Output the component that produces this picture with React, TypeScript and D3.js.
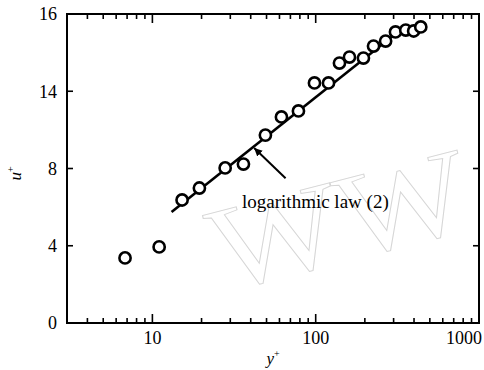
import React, {useRef, useEffect} from 'react'
import * as d3 from 'd3'

// measured points (y+, u+)
const yPlus = [6.8, 11.0, 15.2, 19.4, 27.9, 36.1, 49.2, 61.7, 78.4, 98.3, 119.8, 139.8, 161, 196, 226, 268, 308, 356, 398, 440]
const uPlus = [3.37, 3.94, 6.37, 6.99, 8.03, 8.23, 9.73, 10.67, 10.98, 12.43, 12.43, 13.46, 13.77, 13.72, 14.34, 14.6, 15.07, 15.17, 15.12, 15.33]

// log-law line end points
const lawY = [13.1, 300]
const lawU = [5.75, 14.9]

const yTickValues = [0, 4, 8, 12, 16]
const yTickLabels = ['0', '4', '8', '14', '16']
const xMajorTicks = [10, 100, 1000]
const xTickLabels = ['10', '100', '1000']

// annotation (data coords)
const arrowTip = [42, 9.06]
const arrowTail = [65.4, 7.5]
const lawLabelAt = [35.4, 5.95]
const lawLabel = 'logarithmic law (2)'

export default function App() {
  const ref = useRef(null)

  useEffect(() => {
    const svg = d3.select(ref.current)
    svg.selectAll('*').remove()

    const left = 67
    const right = 479
    const top = 14
    const bottom = 323
    const serif = 'Liberation Serif, Times New Roman, serif'

    const x = d3.scaleLog().domain([3, 1000]).range([left, right])
    const y = d3.scaleLinear().domain([0, 16]).range([bottom, top])

    // watermark (tilted outline letters)
    svg
      .append('text')
      .attr('transform', 'translate(222, 292) rotate(-14.4) scale(1.04, 0.9)')
      .attr('font-family', serif)
      .attr('font-size', 134)
      .attr('fill', 'none')
      .attr('stroke', '#d6d6d6')
      .attr('stroke-width', 1)
      .text('WW')

    const minor = []
    for (let d = 1; d <= 100; d *= 10) {
      for (let k = 2; k <= 9; k++) {
        const v = k * d
        if (v >= 3 && v < 1000) minor.push(v)
      }
    }

    const ax = svg.append('g').attr('stroke', '#000').attr('stroke-width', 1.6)

    // frame
    ax
      .append('rect')
      .attr('x', left)
      .attr('y', top)
      .attr('width', right - left)
      .attr('height', bottom - top)
      .attr('fill', 'none')
      .attr('stroke-width', 2)

    // bottom/top ticks
    minor.forEach(v => {
      ax.append('line').attr('x1', x(v)).attr('x2', x(v)).attr('y1', bottom).attr('y2', bottom - 5)
      ax.append('line').attr('x1', x(v)).attr('x2', x(v)).attr('y1', top).attr('y2', top + 5)
    })
    xMajorTicks.forEach(v => {
      ax.append('line').attr('x1', x(v)).attr('x2', x(v)).attr('y1', bottom).attr('y2', bottom - 9)
      ax.append('line').attr('x1', x(v)).attr('x2', x(v)).attr('y1', top).attr('y2', top + 9)
    })

    // left/right ticks
    yTickValues.forEach(v => {
      ax.append('line').attr('x1', left).attr('x2', left + 6).attr('y1', y(v)).attr('y2', y(v))
      ax.append('line').attr('x1', right).attr('x2', right - 6).attr('y1', y(v)).attr('y2', y(v))
    })

    // tick labels
    svg
      .append('g')
      .selectAll('text')
      .data(yTickValues)
      .join('text')
      .attr('x', left - 10)
      .attr('y', d => y(d))
      .attr('dy', '0.35em')
      .attr('text-anchor', 'end')
      .attr('font-family', serif)
      .attr('font-size', 18)
      .text((d, i) => yTickLabels[i])

    svg
      .append('g')
      .selectAll('text')
      .data(xMajorTicks)
      .join('text')
      .attr('y', bottom + 21)
      .attr('text-anchor', 'middle')
      .attr('font-family', serif)
      .attr('font-size', 18)
      .text((d, i) => xTickLabels[i])
      .each(function(d) {
        // keep the last label inside the page, like the original
        const w = this.getComputedTextLength()
        d3.select(this).attr('x', Math.min(x(d), 482 - w / 2))
      })

    // axis titles
    const xt = svg
      .append('text')
      .attr('x', 273)
      .attr('y', 364)
      .attr('text-anchor', 'middle')
      .attr('font-family', serif)
      .attr('font-style', 'italic')
      .attr('font-size', 17)
    xt.append('tspan').text('y')
    xt.append('tspan').attr('dy', -7).attr('font-size', 10).attr('font-style', 'normal').text('+')

    const yt = svg
      .append('text')
      .attr('transform', `translate(21, ${y(8) + 5}) rotate(-90)`)
      .attr('text-anchor', 'middle')
      .attr('font-family', serif)
      .attr('font-style', 'italic')
      .attr('font-size', 17)
    yt.append('tspan').text('u')
    yt.append('tspan').attr('dy', -7).attr('font-size', 10).attr('font-style', 'normal').text('+')

    // log law
    const law = lawY.map((v, i) => ({yp: v, up: lawU[i]}))
    svg
      .append('path')
      .datum(law)
      .attr('d', d3.line().x(d => x(d.yp)).y(d => y(d.up)))
      .attr('stroke', '#000')
      .attr('stroke-width', 2.6)
      .attr('fill', 'none')

    // points
    const pts = yPlus.map((v, i) => ({yp: v, up: uPlus[i]}))
    svg
      .append('g')
      .selectAll('circle')
      .data(pts)
      .join('circle')
      .attr('cx', d => x(d.yp))
      .attr('cy', d => y(d.up))
      .attr('r', 5.6)
      .attr('fill', '#fff')
      .attr('stroke', '#000')
      .attr('stroke-width', 2.6)

    // annotation arrow
    svg
      .append('defs')
      .append('marker')
      .attr('id', 'ah')
      .attr('viewBox', '0 0 10 10')
      .attr('refX', 10)
      .attr('refY', 5)
      .attr('markerWidth', 4)
      .attr('markerHeight', 4)
      .attr('orient', 'auto')
      .append('path')
      .attr('d', 'M0,0 L10,5 L0,10 z')
      .attr('fill', '#000')

    svg
      .append('line')
      .attr('x1', x(arrowTail[0]))
      .attr('y1', y(arrowTail[1]))
      .attr('x2', x(arrowTip[0]))
      .attr('y2', y(arrowTip[1]))
      .attr('stroke', '#000')
      .attr('stroke-width', 2)
      .attr('marker-end', 'url(#ah)')

    svg
      .append('text')
      .attr('x', x(lawLabelAt[0]))
      .attr('y', y(lawLabelAt[1]))
      .attr('font-family', serif)
      .attr('font-size', 19)
      .text(lawLabel)
  }, [])

  return (
    <div style={{position: 'absolute', left: 0, top: 0}}>
      <svg ref={ref} width="484" height="370" style={{display: 'block', background: '#fff'}} />
    </div>
  )
}
